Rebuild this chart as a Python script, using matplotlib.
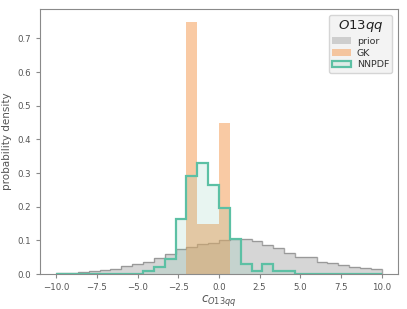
import numpy as np
import matplotlib
matplotlib.use("Agg")
import matplotlib.pyplot as plt

# 30 equal bins on [-10, 10]
bin_lo = -10.0
bin_hi = 10.0
n_bins = 30

prior = [0.002, 0.004, 0.005, 0.008, 0.012, 0.015, 0.023, 0.029, 0.036, 0.048,
         0.060, 0.074, 0.079, 0.088, 0.093, 0.101, 0.104, 0.103, 0.098, 0.085,
         0.076, 0.063, 0.052, 0.051, 0.037, 0.033, 0.027, 0.022, 0.018, 0.015]

gk = [0, 0, 0, 0, 0, 0, 0, 0, 0, 0,
      0, 0, 0.75, 0.15, 0.15, 0.45, 0, 0, 0, 0,
      0, 0, 0, 0, 0, 0, 0, 0, 0, 0]

nnpdf = [0, 0, 0, 0, 0, 0, 0, 0, 0.01, 0.02,
         0.045, 0.163, 0.29, 0.33, 0.265, 0.197, 0.103, 0.03, 0.01, 0.03,
         0.01, 0.01, 0, 0, 0, 0, 0, 0, 0, 0]

edges = np.linspace(bin_lo, bin_hi, n_bins + 1)

txt = "#555555"
plt.rcParams["font.family"] = "DejaVu Sans"
plt.rcParams["text.color"] = txt
plt.rcParams["axes.labelcolor"] = txt
plt.rcParams["xtick.color"] = txt
plt.rcParams["ytick.color"] = txt
plt.rcParams["axes.edgecolor"] = "#8a8a8a"

fig = plt.figure(figsize=(4.07, 3.09), dpi=100)
ax = fig.add_axes([0.098, 0.113, 0.88, 0.858])

# prior: fill carries the label, outline drawn on its own
ax.stairs(prior, edges, fill=True, facecolor=(0.5, 0.5, 0.5, 0.32),
          linewidth=0, label="prior")
ax.stairs(prior, edges, color=(0.5, 0.5, 0.5, 0.7), linewidth=1.0)
ax.stairs(gk, edges, fill=True, facecolor="#f5a05a", alpha=0.55,
          linewidth=0, label="GK")
ax.stairs(nnpdf, edges, fill=True, facecolor=(0.4, 0.76, 0.65, 0.15),
          edgecolor="#5cc0a4", linewidth=1.6, label="NNPDF")

ax.set_xlim(-11, 11)
ax.set_ylim(0, 0.7875)
ax.set_xticks(np.arange(-10, 10.1, 2.5))
ax.set_yticks(np.arange(0, 0.71, 0.1))
ax.tick_params(labelsize=6.2, length=3, width=0.8, color="#8a8a8a")
ax.set_xlabel("$c_{O13qq}$", fontsize=8.5, labelpad=1)
ax.set_ylabel("probability density", fontsize=7.5, labelpad=4)

leg = ax.legend(loc="upper right", title="$O13qq$", fontsize=6.8,
                title_fontsize=9.5, frameon=True, facecolor="#f3f3f3",
                edgecolor="#d5d5d5", framealpha=1, borderaxespad=0.6,
                labelspacing=0.3, borderpad=0.35, handletextpad=0.6)
for t in leg.get_texts():
    t.set_color("#333333")
leg.get_title().set_color("#222222")

fig.savefig("out.png", dpi=100)
